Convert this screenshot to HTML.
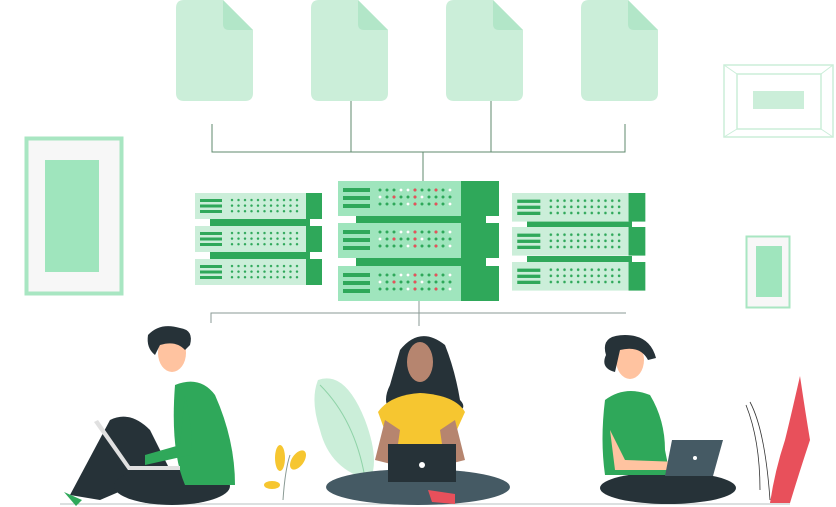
<!DOCTYPE html>
<html><head><meta charset="utf-8"><style>html,body{margin:0;padding:0;background:#fff}svg{display:block}</style></head>
<body>
<svg width="836" height="507" viewBox="0 0 836 507" xmlns="http://www.w3.org/2000/svg">
<defs>
<pattern id="dl" x="35" y="5" width="6.5" height="5.6" patternUnits="userSpaceOnUse"><circle cx="2" cy="2" r="1.2" fill="#2fa85a"/></pattern>
<pattern id="dc" x="40" y="7" width="7" height="7" patternUnits="userSpaceOnUse"><circle cx="2" cy="2" r="1.5" fill="#2fa85a"/></pattern>
<g id="doc"><path d="M0 8 Q0 0 8 0 H47 L77 30 V93 Q77 101 69 101 H8 Q0 101 0 93 Z" fill="#cbeed9"/><path d="M47 0 V24 Q47 30 53 30 H77 Z" fill="#b2e6c8"/></g>
<g id="lu"><rect x="0" y="0" width="112" height="26" fill="#cbeed9"/><rect x="111" y="0" width="16" height="26" fill="#2fa85a"/><rect x="5" y="6" width="22" height="3" fill="#2fa85a"/><rect x="5" y="11.5" width="22" height="3" fill="#2fa85a"/><rect x="5" y="17" width="22" height="3" fill="#2fa85a"/><rect x="35" y="5" width="71" height="16" fill="url(#dl)"/></g>
<g id="cu"><rect x="0" y="0" width="124" height="35" fill="#9fe5bd"/><rect x="123" y="0" width="38" height="35" fill="#2fa85a"/><rect x="5" y="7" width="27" height="4" fill="#2fa85a"/><rect x="5" y="15" width="27" height="4" fill="#2fa85a"/><rect x="5" y="23" width="27" height="4" fill="#2fa85a"/><rect x="40" y="7" width="77" height="20" fill="url(#dc)"/>
<circle cx="77" cy="9" r="1.5" fill="#e8505b"/><circle cx="98" cy="9" r="1.5" fill="#e8505b"/><circle cx="56" cy="16" r="1.5" fill="#e8505b"/><circle cx="77" cy="16" r="1.5" fill="#e8505b"/><circle cx="77" cy="23" r="1.5" fill="#e8505b"/><circle cx="98" cy="23" r="1.5" fill="#e8505b"/>
<circle cx="70" cy="9" r="1.5" fill="#fff"/><circle cx="63" cy="9" r="1.5" fill="#fff"/><circle cx="84" cy="16" r="1.5" fill="#fff"/><circle cx="42" cy="16" r="1.5" fill="#fff"/><circle cx="70" cy="23" r="1.5" fill="#fff"/><circle cx="112" cy="23" r="1.5" fill="#fff"/><circle cx="112" cy="9" r="1.5" fill="#fff"/></g>
</defs>

<use href="#doc" x="176" y="0"/><use href="#doc" x="311" y="0"/><use href="#doc" x="446" y="0"/><use href="#doc" x="581" y="0"/>
<g stroke="#5f8a6e" stroke-width="1" fill="none">
<path d="M212 124 V152 H625 V124"/><path d="M351 101 V152 M491 101 V152 M423 152 V182"/>
</g>
<rect x="26.5" y="138.5" width="95" height="155" fill="#f7f7f7" stroke="#a8e6c2" stroke-width="4"/>
<rect x="45" y="160" width="54" height="112" fill="#9fe5bd"/>
<rect x="724" y="65" width="109" height="72" fill="none" stroke="#cbeed9" stroke-width="1.5"/>
<rect x="737" y="74" width="84" height="55" fill="none" stroke="#cbeed9" stroke-width="1.5"/>
<path d="M724 65 L737 74 M833 65 L821 74 M724 137 L737 129 M833 137 L821 129" stroke="#cbeed9"/>
<rect x="753" y="91" width="51" height="18" fill="#cbeed9"/>
<rect x="746.5" y="236.5" width="43" height="71" fill="#f7f7f7" stroke="#a8e6c2" stroke-width="2"/>
<rect x="756" y="246" width="26" height="51" fill="#9fe5bd"/>
<rect x="210" y="218" width="100" height="8" fill="#2fa85a"/><rect x="210" y="251" width="100" height="8" fill="#2fa85a"/>
<use href="#lu" x="195" y="193"/><use href="#lu" x="195" y="226"/><use href="#lu" x="195" y="259"/>
<rect x="356" y="215" width="130" height="8" fill="#2fa85a"/><rect x="356" y="258" width="130" height="8" fill="#2fa85a"/>
<use href="#cu" x="338" y="181"/><use href="#cu" x="338" y="223"/><use href="#cu" x="338" y="266"/>
<rect x="527" y="221" width="105" height="6" fill="#2fa85a"/><rect x="527" y="256" width="105" height="6" fill="#2fa85a"/>
<g transform="translate(512,193) scale(1.05,1.1)"><use href="#lu"/></g>
<g transform="translate(512,227) scale(1.05,1.1)"><use href="#lu"/></g>
<g transform="translate(512,262) scale(1.05,1.1)"><use href="#lu"/></g>
<g stroke="#8a9a94" stroke-width="1" fill="none"><path d="M211 323 V313 H626"/><path d="M419 301 V326"/></g>

<line x1="60" y1="504" x2="790" y2="504" stroke="#b8c0c0" stroke-width="1"/>

<path d="M318 380 Q345 370 365 420 Q380 460 370 480 Q330 470 320 430 Q310 400 318 380 Z" fill="#cbeed9"/>
<path d="M320 385 Q355 420 365 478" stroke="#8fd3a8" fill="none"/>
<path d="M283 500 Q285 470 290 455" stroke="#8a9a94" fill="none"/>
<ellipse cx="280" cy="458" rx="5" ry="13" fill="#f6c630"/><ellipse cx="298" cy="460" rx="6" ry="11" transform="rotate(35 298 460)" fill="#f6c630"/><ellipse cx="272" cy="485" rx="8" ry="4" fill="#f6c630"/>
<path d="M800 376 Q790 420 785 440 Q775 470 770 503 H790 Q800 470 810 440 Q805 410 800 376 Z" fill="#e8505b"/>
<path d="M750 402 Q765 430 770 500" stroke="#333" fill="none" stroke-width=".8"/>
<path d="M746 405 Q760 440 760 490" stroke="#333" fill="none" stroke-width=".8"/>

<path d="M70 495 L110 420 Q130 410 150 430 L170 470 L100 500 Z" fill="#263238"/>
<ellipse cx="172" cy="486" rx="58" ry="19" fill="#263238"/>
<path d="M64 492 L82 500 L76 506 Z" fill="#2fa85a"/>
<path d="M175 385 Q200 375 215 395 Q235 440 235 485 L185 485 Q170 450 175 385 Z" fill="#2fa85a"/>
<path d="M185 395 Q195 440 190 455 L145 465 L145 455 L180 445 Z" fill="#2fa85a"/>
<path d="M94 422 L128 470 L180 470 L180 466 L130 466 L98 420 Z" fill="#e0e0e0"/>
<ellipse cx="172" cy="353" rx="14" ry="19" fill="#ffc3a0"/>
<path d="M148 335 Q160 322 180 328 Q194 330 190 345 L185 350 Q176 340 160 345 L155 355 Q146 348 148 335 Z" fill="#263238"/>
<path d="M400 350 Q420 325 445 345 Q455 370 460 400 Q470 410 450 415 L395 415 Q380 405 390 385 Z" fill="#263238"/>
<ellipse cx="420" cy="362" rx="13" ry="20" fill="#b6856f"/>
<path d="M378 412 Q390 395 420 393 Q455 395 465 412 L450 445 L390 445 Z" fill="#f6c630"/>
<path d="M385 420 L375 460 L395 465 L400 430 Z M455 420 L465 460 L445 465 L440 430 Z" fill="#b6856f"/>
<ellipse cx="418" cy="487" rx="92" ry="18" fill="#455a64"/>
<rect x="388" y="444" width="68" height="38" fill="#263238"/>
<circle cx="422" cy="465" r="3" fill="#fff"/>
<path d="M428 490 L455 494 L455 504 L432 502 Z" fill="#e8505b"/>
<ellipse cx="668" cy="488" rx="68" ry="16" fill="#263238"/>
<path d="M605 400 Q625 385 650 395 Q665 420 665 450 L670 475 L605 475 Q600 440 605 400 Z" fill="#2fa85a"/>
<path d="M610 430 L615 470 L680 470 L680 462 L625 460 Z" fill="#ffc3a0"/>
<path d="M672 440 L723 440 L713 476 L665 476 Z" fill="#455a64"/>
<circle cx="695" cy="458" r="2" fill="#fff"/>
<ellipse cx="630" cy="360" rx="14" ry="19" fill="#ffc3a0"/>
<path d="M606 355 Q600 335 625 335 Q650 335 656 358 L648 360 Q640 345 620 350 L615 372 Q600 368 606 355 Z" fill="#263238"/>
</svg>
</body></html>
